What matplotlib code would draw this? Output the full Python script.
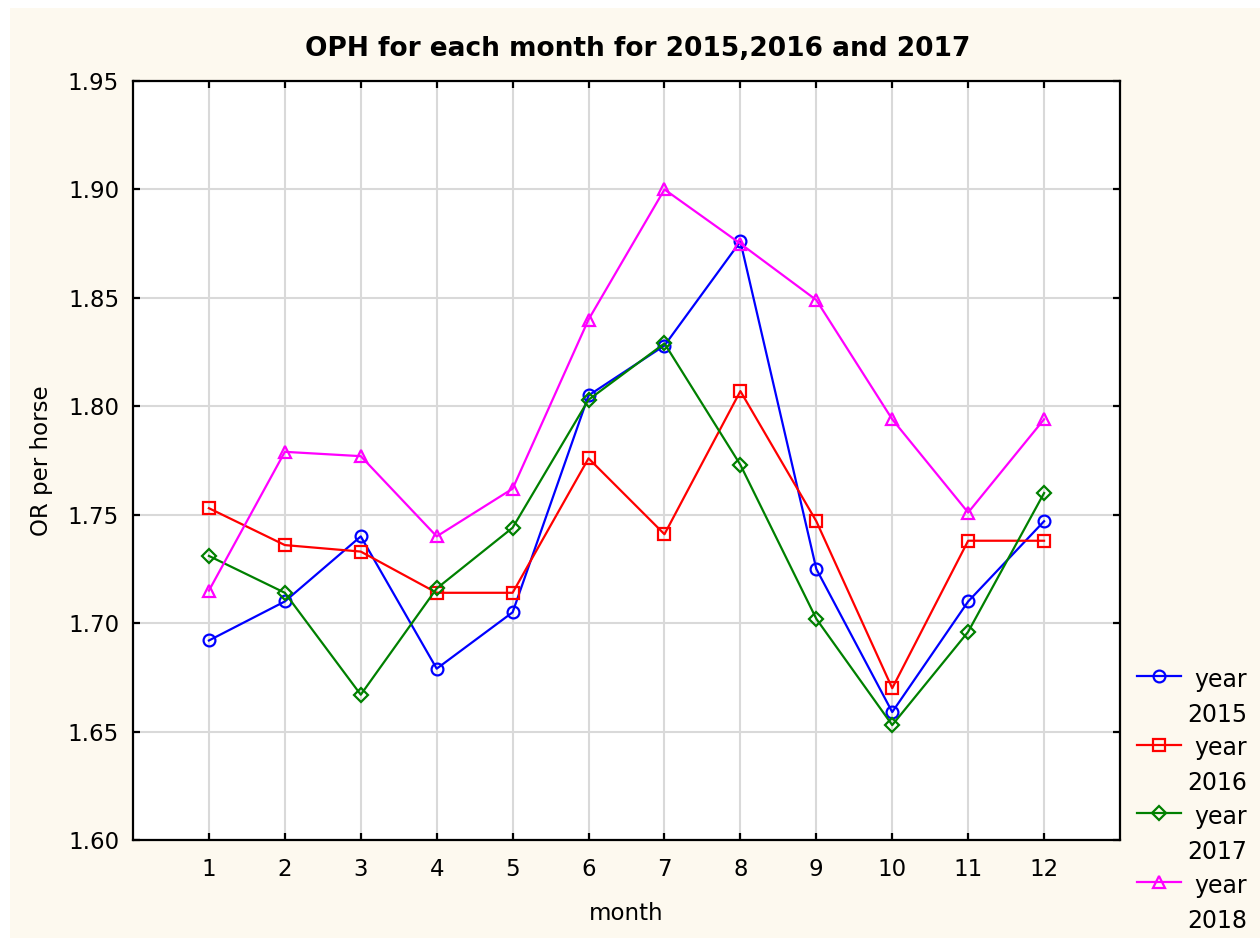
import matplotlib
matplotlib.use('Agg')
import matplotlib.pyplot as plt
from matplotlib.patches import Rectangle
from matplotlib.lines import Line2D

plt.rcParams['font.family'] = ['DejaVu Sans']

# data
months = [1, 2, 3, 4, 5, 6, 7, 8, 9, 10, 11, 12]
oph_2015 = [1.692, 1.710, 1.740, 1.679, 1.705, 1.805, 1.828, 1.876, 1.725, 1.659, 1.710, 1.747]
oph_2016 = [1.753, 1.736, 1.733, 1.714, 1.714, 1.776, 1.741, 1.807, 1.747, 1.670, 1.738, 1.738]
oph_2017 = [1.731, 1.714, 1.667, 1.716, 1.744, 1.803, 1.829, 1.773, 1.702, 1.653, 1.696, 1.760]
oph_2018 = [1.715, 1.779, 1.777, 1.740, 1.762, 1.840, 1.900, 1.875, 1.849, 1.794, 1.751, 1.794]
y_ticks = [1.60, 1.65, 1.70, 1.75, 1.80, 1.85, 1.90, 1.95]
years = ['2015', '2016', '2017', '2018']

series = [
    (oph_2015, 'blue', 'o', 8.5),
    (oph_2016, 'red', 's', 8.0),
    (oph_2017, 'green', 'D', 7.5),
    (oph_2018, 'magenta', '^', 9.0),
]

W, H = 1260, 938
fig = plt.figure(figsize=(12.6, 9.38), dpi=100, facecolor='white')
fig.patches.append(Rectangle((10 / W, 0), 1, 1 - 8 / H, transform=fig.transFigure,
                             facecolor='#fdf9ef', edgecolor='none', zorder=-10))
ax = fig.add_axes([133 / W, 1 - 840 / H, (1120 - 133) / W, (840 - 81) / H])
ax.set_facecolor('white')

for vals, color, mk, ms in series:
    ax.plot(months, vals, color=color, lw=1.6, marker=mk, ms=ms,
            mfc='none', mec=color, mew=1.6, zorder=3)

ax.set_xlim(0, 13)
ax.set_ylim(1.60, 1.95)
ax.set_xticks(months)
ax.set_yticks(y_ticks)
ax.set_yticklabels([f'{v:.2f}' for v in y_ticks])
ax.grid(True, color='#d9d9d9', lw=1.5, zorder=0)
ax.set_axisbelow(True)
ax.tick_params(direction='in', length=5, width=1.6, labelsize=16.5, top=True, right=True)
ax.tick_params(axis='x', pad=13)
ax.tick_params(axis='y', pad=10)
for s in ax.spines.values():
    s.set_linewidth(1.6)
    s.set_color('black')

ax.set_xlabel('month', fontsize=16.5)
ax.set_ylabel('OR per horse', fontsize=16.5)
ax.xaxis.set_label_coords(0.5, (840 - 902) / (840 - 81))
ax.yaxis.set_label_coords((53 - 133) / (1120 - 133), 0.5)
fig.text(0.506, 1 - 56 / H, 'OPH for each month for 2015,2016 and 2017',
         ha='center', va='baseline', fontsize=19, fontweight='bold')

# legend drawn to the right of the axes, handle level with the first text line
for i, (vals, color, mk, ms) in enumerate(series):
    yc = 676 + 68.5 * i
    fig.add_artist(Line2D([1137 / W, 1181 / W], [1 - yc / H] * 2, color=color, lw=1.6))
    fig.add_artist(Line2D([1159 / W], [1 - yc / H], marker=mk, ms=ms, mfc='none',
                          mec=color, mew=1.6, color=color))
    fig.text(1247 / W, 1 - (yc + 11) / H, 'year', ha='right', va='baseline', fontsize=17)
    fig.text(1247 / W, 1 - (yc + 46) / H, years[i], ha='right', va='baseline', fontsize=17)

fig.savefig('out.png', dpi=100, facecolor=fig.get_facecolor())
